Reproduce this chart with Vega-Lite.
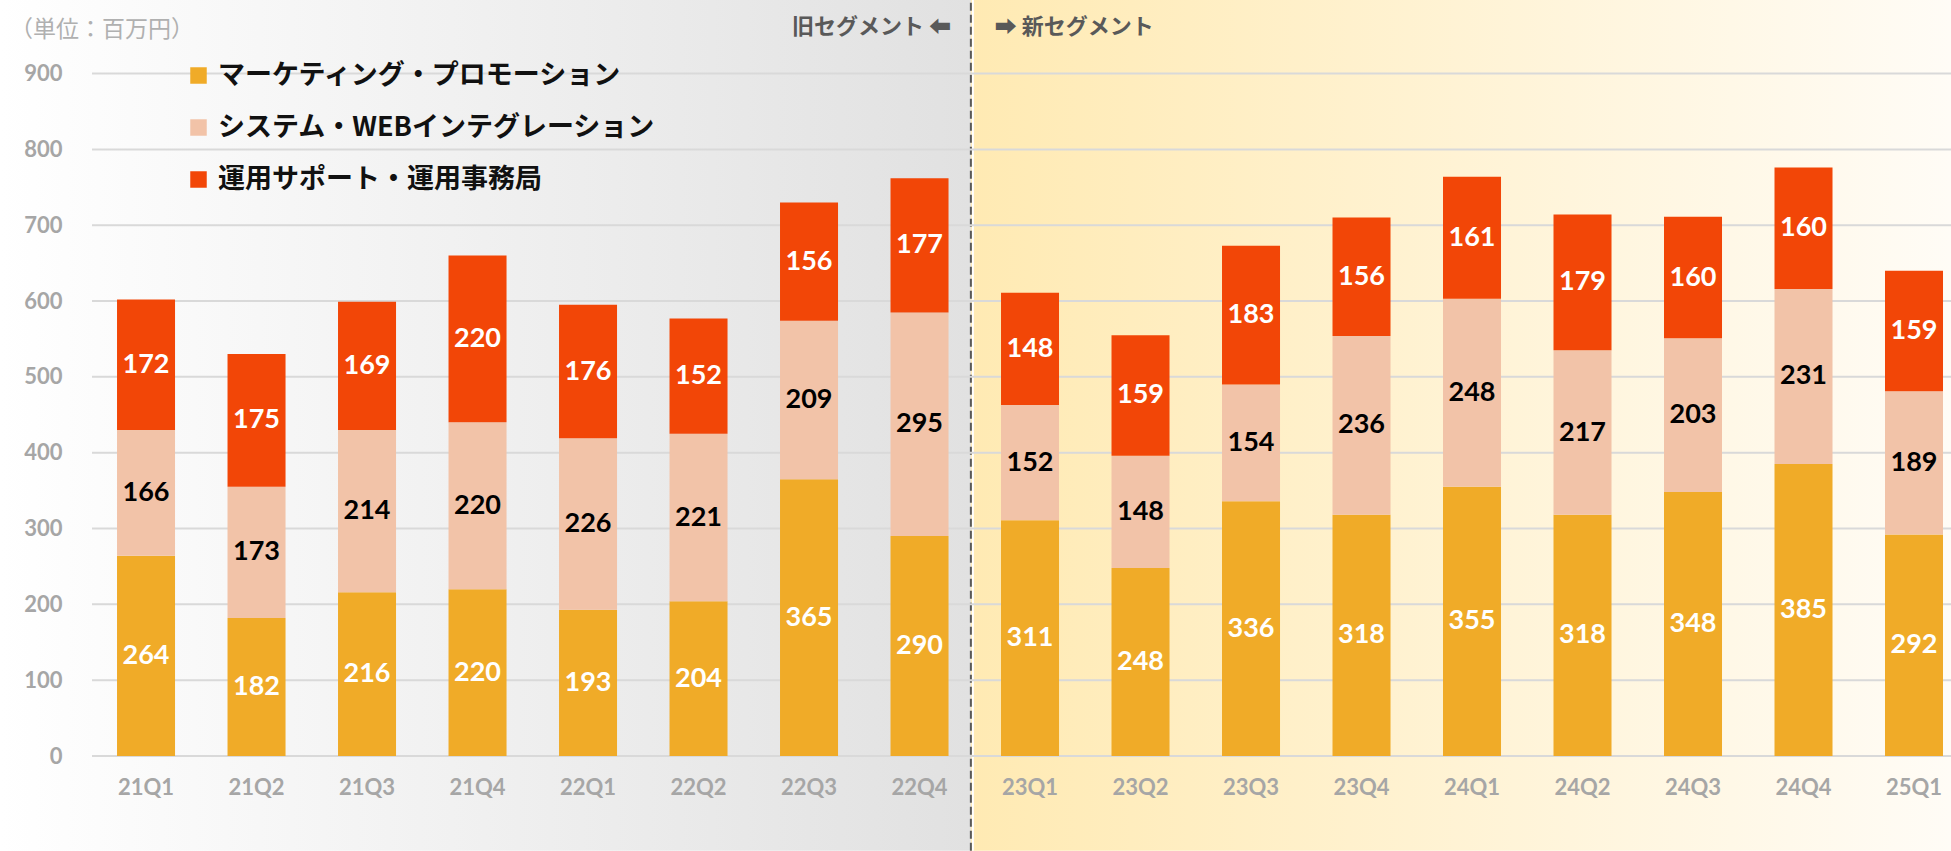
{
  "$schema": "https://vega.github.io/schema/vega-lite/v6.json",
  "width": 1859,
  "height": 756,
  "autosize": {"type": "none"},
  "padding": {"left": 92, "top": 0, "right": 0, "bottom": 95},
  "background": "#ffffff",
  "config": {"view": {"stroke": null}},
  "datasets": {
    "sales": [
      {"q": "21Q1", "seg": "マーケティング・プロモーション", "ord": 1, "value": 264},
      {"q": "21Q1", "seg": "システム・WEBインテグレーション", "ord": 2, "value": 166},
      {"q": "21Q1", "seg": "運用サポート・運用事務局", "ord": 3, "value": 172},
      {"q": "21Q2", "seg": "マーケティング・プロモーション", "ord": 1, "value": 182},
      {"q": "21Q2", "seg": "システム・WEBインテグレーション", "ord": 2, "value": 173},
      {"q": "21Q2", "seg": "運用サポート・運用事務局", "ord": 3, "value": 175},
      {"q": "21Q3", "seg": "マーケティング・プロモーション", "ord": 1, "value": 216},
      {"q": "21Q3", "seg": "システム・WEBインテグレーション", "ord": 2, "value": 214},
      {"q": "21Q3", "seg": "運用サポート・運用事務局", "ord": 3, "value": 169},
      {"q": "21Q4", "seg": "マーケティング・プロモーション", "ord": 1, "value": 220},
      {"q": "21Q4", "seg": "システム・WEBインテグレーション", "ord": 2, "value": 220},
      {"q": "21Q4", "seg": "運用サポート・運用事務局", "ord": 3, "value": 220},
      {"q": "22Q1", "seg": "マーケティング・プロモーション", "ord": 1, "value": 193},
      {"q": "22Q1", "seg": "システム・WEBインテグレーション", "ord": 2, "value": 226},
      {"q": "22Q1", "seg": "運用サポート・運用事務局", "ord": 3, "value": 176},
      {"q": "22Q2", "seg": "マーケティング・プロモーション", "ord": 1, "value": 204},
      {"q": "22Q2", "seg": "システム・WEBインテグレーション", "ord": 2, "value": 221},
      {"q": "22Q2", "seg": "運用サポート・運用事務局", "ord": 3, "value": 152},
      {"q": "22Q3", "seg": "マーケティング・プロモーション", "ord": 1, "value": 365},
      {"q": "22Q3", "seg": "システム・WEBインテグレーション", "ord": 2, "value": 209},
      {"q": "22Q3", "seg": "運用サポート・運用事務局", "ord": 3, "value": 156},
      {"q": "22Q4", "seg": "マーケティング・プロモーション", "ord": 1, "value": 290},
      {"q": "22Q4", "seg": "システム・WEBインテグレーション", "ord": 2, "value": 295},
      {"q": "22Q4", "seg": "運用サポート・運用事務局", "ord": 3, "value": 177},
      {"q": "23Q1", "seg": "マーケティング・プロモーション", "ord": 1, "value": 311},
      {"q": "23Q1", "seg": "システム・WEBインテグレーション", "ord": 2, "value": 152},
      {"q": "23Q1", "seg": "運用サポート・運用事務局", "ord": 3, "value": 148},
      {"q": "23Q2", "seg": "マーケティング・プロモーション", "ord": 1, "value": 248},
      {"q": "23Q2", "seg": "システム・WEBインテグレーション", "ord": 2, "value": 148},
      {"q": "23Q2", "seg": "運用サポート・運用事務局", "ord": 3, "value": 159},
      {"q": "23Q3", "seg": "マーケティング・プロモーション", "ord": 1, "value": 336},
      {"q": "23Q3", "seg": "システム・WEBインテグレーション", "ord": 2, "value": 154},
      {"q": "23Q3", "seg": "運用サポート・運用事務局", "ord": 3, "value": 183},
      {"q": "23Q4", "seg": "マーケティング・プロモーション", "ord": 1, "value": 318},
      {"q": "23Q4", "seg": "システム・WEBインテグレーション", "ord": 2, "value": 236},
      {"q": "23Q4", "seg": "運用サポート・運用事務局", "ord": 3, "value": 156},
      {"q": "24Q1", "seg": "マーケティング・プロモーション", "ord": 1, "value": 355},
      {"q": "24Q1", "seg": "システム・WEBインテグレーション", "ord": 2, "value": 248},
      {"q": "24Q1", "seg": "運用サポート・運用事務局", "ord": 3, "value": 161},
      {"q": "24Q2", "seg": "マーケティング・プロモーション", "ord": 1, "value": 318},
      {"q": "24Q2", "seg": "システム・WEBインテグレーション", "ord": 2, "value": 217},
      {"q": "24Q2", "seg": "運用サポート・運用事務局", "ord": 3, "value": 179},
      {"q": "24Q3", "seg": "マーケティング・プロモーション", "ord": 1, "value": 348},
      {"q": "24Q3", "seg": "システム・WEBインテグレーション", "ord": 2, "value": 203},
      {"q": "24Q3", "seg": "運用サポート・運用事務局", "ord": 3, "value": 160},
      {"q": "24Q4", "seg": "マーケティング・プロモーション", "ord": 1, "value": 385},
      {"q": "24Q4", "seg": "システム・WEBインテグレーション", "ord": 2, "value": 231},
      {"q": "24Q4", "seg": "運用サポート・運用事務局", "ord": 3, "value": 160},
      {"q": "25Q1", "seg": "マーケティング・プロモーション", "ord": 1, "value": 292},
      {"q": "25Q1", "seg": "システム・WEBインテグレーション", "ord": 2, "value": 189},
      {"q": "25Q1", "seg": "運用サポート・運用事務局", "ord": 3, "value": 159}
    ],
    "grid": [
      {"v": 0}, {"v": 100}, {"v": 200}, {"v": 300}, {"v": 400},
      {"v": 500}, {"v": 600}, {"v": 700}, {"v": 800}, {"v": 900}
    ]
  },
  "layer": [
    {
      "data": {"values": [{"unit": "（単位：百万円）", "old": "旧セグメント ⬅", "new": "➡ 新セグメント"}]},
      "layer": [
        {
          "mark": {"type": "rect", "color": {"gradient": "linear", "x1": 0, "x2": 1, "y1": 0, "y2": 0, "stops": [{"offset": 0, "color": "#ffffff"}, {"offset": 1, "color": "#e1e1e1"}]}},
          "encoding": {
            "x": {"datum": -1.321, "type": "quantitative", "scale": {"domain": [-0.4887, 16.335], "nice": false, "zero": false}, "axis": null},
            "x2": {"datum": 7.465},
            "y": {"datum": -125, "type": "quantitative", "scale": {"domain": [0, 997], "nice": false}, "axis": null},
            "y2": {"datum": 997}
          }
        },
        {
          "mark": {"type": "rect", "color": {"gradient": "linear", "x1": 0, "x2": 1, "y1": 0, "y2": 0, "stops": [{"offset": 0, "color": "#ffeab3"}, {"offset": 1, "color": "#fffcf6"}]}},
          "encoding": {
            "x": {"datum": 7.465, "type": "quantitative", "scale": {"domain": [-0.4887, 16.335], "nice": false, "zero": false}, "axis": null},
            "x2": {"datum": 16.335},
            "y": {"datum": -125, "type": "quantitative", "scale": {"domain": [0, 997], "nice": false}, "axis": null},
            "y2": {"datum": 997}
          }
        },
        {
          "mark": {"type": "rule", "color": "#ffffff", "strokeWidth": 2},
          "encoding": {
            "x": {"datum": 7.483, "type": "quantitative", "scale": {"domain": [-0.4887, 16.335], "nice": false, "zero": false}, "axis": null},
            "y": {"datum": -125, "type": "quantitative", "scale": {"domain": [0, 997], "nice": false}, "axis": null},
            "y2": {"datum": 997}
          }
        },
        {
          "mark": {"type": "rule", "color": "#595959", "strokeWidth": 2, "strokeDash": [8, 4]},
          "encoding": {
            "x": {"datum": 7.465, "type": "quantitative", "scale": {"domain": [-0.4887, 16.335], "nice": false, "zero": false}, "axis": null},
            "y": {"datum": -125, "type": "quantitative", "scale": {"domain": [0, 997], "nice": false}, "axis": null},
            "y2": {"datum": 997}
          }
        },
        {
          "mark": {"type": "text", "align": "left", "baseline": "middle", "font": "Noto Sans CJK JP", "fontSize": 23, "color": "#b0b0b0"},
          "encoding": {
            "x": {"datum": -1.23, "type": "quantitative", "scale": {"domain": [-0.4887, 16.335], "nice": false, "zero": false}, "axis": null},
            "y": {"datum": 958, "type": "quantitative", "scale": {"domain": [0, 997], "nice": false}, "axis": null},
            "text": {"field": "unit"}
          }
        },
        {
          "mark": {"type": "text", "align": "right", "baseline": "middle", "font": "Noto Sans CJK JP, DejaVu Sans", "fontWeight": "bold", "fontSize": 22, "color": "#595959"},
          "encoding": {
            "x": {"datum": 7.285, "type": "quantitative", "scale": {"domain": [-0.4887, 16.335], "nice": false, "zero": false}, "axis": null},
            "y": {"datum": 962, "type": "quantitative", "scale": {"domain": [0, 997], "nice": false}, "axis": null},
            "text": {"field": "old"}
          }
        },
        {
          "mark": {"type": "text", "align": "left", "baseline": "middle", "font": "Noto Sans CJK JP, DejaVu Sans", "fontWeight": "bold", "fontSize": 22, "color": "#595959"},
          "encoding": {
            "x": {"datum": 7.68, "type": "quantitative", "scale": {"domain": [-0.4887, 16.335], "nice": false, "zero": false}, "axis": null},
            "y": {"datum": 962, "type": "quantitative", "scale": {"domain": [0, 997], "nice": false}, "axis": null},
            "text": {"field": "new"}
          }
        }
      ]
    },
    {
      "data": {"name": "grid"},
      "mark": {"type": "rule", "color": "#d9d9d9", "strokeWidth": 2},
      "encoding": {
        "y": {"field": "v", "type": "quantitative", "scale": {"domain": [0, 997], "nice": false}, "axis": null}
      }
    },
    {
      "data": {"name": "sales"},
      "layer": [
        {
          "mark": {"type": "bar"},
          "encoding": {
            "x": {
              "field": "q", "type": "nominal", "sort": null, "title": null,
              "scale": {"type": "band", "paddingInner": 0.475, "paddingOuter": 0.1494, "align": 0.758},
              "axis": {"title": null, "labelAngle": 0, "domain": false, "ticks": false, "grid": false, "labelPadding": 21, "labelFont": "Lato", "labelFontSize": 22, "labelFontWeight": "bold", "labelColor": "#a6a6a6", "zindex": 1}
            },
            "y": {
              "field": "value", "type": "quantitative", "stack": "zero",
              "scale": {"domain": [0, 997], "nice": false},
              "axis": {"title": null, "values": [0, 100, 200, 300, 400, 500, 600, 700, 800, 900], "grid": false, "domain": false, "ticks": false, "labelPadding": 30, "labelFont": "Lato", "labelFontSize": 22, "labelFontWeight": "bold", "labelColor": "#a6a6a6", "zindex": 1}
            },
            "order": {"field": "ord", "type": "quantitative"},
            "color": {
              "field": "seg", "type": "nominal",
              "scale": {"domain": ["マーケティング・プロモーション", "システム・WEBインテグレーション", "運用サポート・運用事務局"], "range": ["#f0ab28", "#f2c3a8", "#f24607"]},
              "legend": {
                "title": null, "orient": "none", "legendX": 93, "legendY": 62, "direction": "vertical",
                "symbolType": "square", "symbolSize": 272, "symbolStrokeWidth": 0, "symbolOpacity": 1,
                "labelFont": "Noto Sans CJK JP", "labelFontSize": 27, "labelFontWeight": "bold", "labelColor": "#111111",
                "labelLimit": 0, "labelOffset": 6, "rowPadding": 24, "padding": 0
              }
            }
          }
        },
        {
          "mark": {"type": "text", "font": "Lato", "fontWeight": "bold", "fontSize": 27, "baseline": "middle", "align": "center"},
          "encoding": {
            "x": {"field": "q", "type": "nominal", "sort": null},
            "y": {"field": "value", "type": "quantitative", "stack": "zero", "bandPosition": 0.5, "scale": {"domain": [0, 997], "nice": false}},
            "order": {"field": "ord", "type": "quantitative"},
            "text": {"field": "value", "type": "quantitative"},
            "color": {"condition": {"test": "datum.seg === 'システム・WEBインテグレーション'", "value": "#000000"}, "value": "#ffffff"}
          }
        }
      ]
    }
  ],
  "resolve": {"scale": {"x": "independent"}, "axis": {"y": "independent"}}
}
